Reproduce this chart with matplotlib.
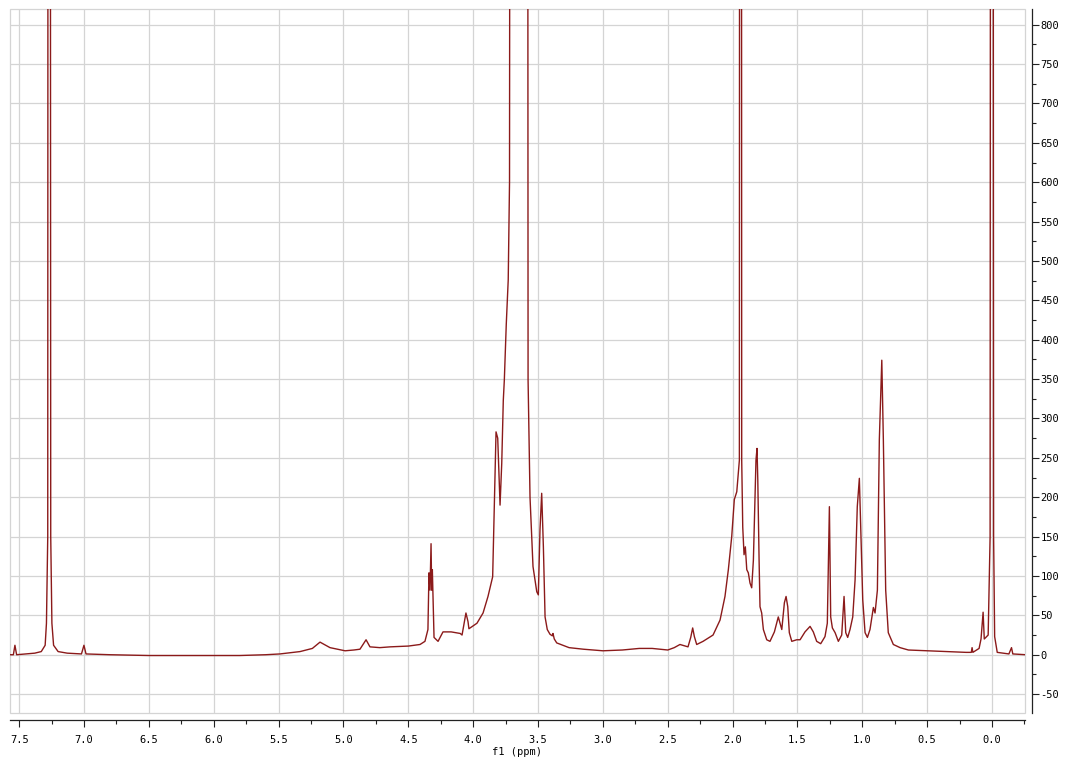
import matplotlib
matplotlib.use("Agg")
import matplotlib.pyplot as plt
from matplotlib.patches import Rectangle
from matplotlib.ticker import MultipleLocator, FormatStrFormatter

plt.rcParams['font.family'] = ['DejaVu Sans Mono']
plt.rcParams['axes.unicode_minus'] = False

# 1H NMR trace (ppm, intensity)
ppm = [7.57, 7.545, 7.533, 7.52, 7.45, 7.38,
       7.33, 7.30, 7.29, 7.28, 7.275, 7.265, 7.257, 7.248, 7.235, 7.20, 7.13,
       7.02, 7.001, 6.985, 6.8, 6.5, 6.2, 6.0, 5.8, 5.6,
       5.49, 5.335, 5.24, 5.181, 5.104, 4.988, 4.92, 4.873, 4.826, 4.796, 4.72,
       4.64, 4.5, 4.41, 4.372, 4.349, 4.341, 4.333, 4.325, 4.32, 4.315,
       4.302, 4.271, 4.233, 4.17, 4.10, 4.086, 4.056, 4.04, 4.033,
       3.971, 3.924, 3.886, 3.85, 3.824, 3.811, 3.793, 3.78, 3.768, 3.76,
       3.745, 3.73, 3.72, 3.708, 3.69, 3.60, 3.585, 3.577, 3.562, 3.539,
       3.51, 3.498, 3.485, 3.472, 3.459, 3.446, 3.429, 3.408, 3.39, 3.385,
       3.375, 3.356, 3.261, 3.15, 3.0, 2.85, 2.72, 2.62, 2.5, 2.45,
       2.406, 2.344, 2.323, 2.308, 2.295, 2.277, 2.228, 2.151, 2.097, 2.059,
       2.033, 2.007, 1.987, 1.968, 1.956, 1.948, 1.943, 1.935, 1.93, 1.922,
       1.912, 1.902, 1.891, 1.879, 1.866, 1.853, 1.84, 1.827, 1.82, 1.812,
       1.806, 1.796, 1.789, 1.776, 1.763, 1.737, 1.712, 1.678, 1.648, 1.621,
       1.601, 1.588, 1.575, 1.563, 1.544, 1.506, 1.48, 1.442, 1.403, 1.378,
       1.352, 1.321, 1.288, 1.27, 1.254, 1.244, 1.231, 1.21, 1.185, 1.159,
       1.141, 1.128, 1.113, 1.095, 1.074, 1.056, 1.039, 1.023, 1.01, 0.997,
       0.979, 0.961, 0.941, 0.915, 0.902, 0.884, 0.869, 0.85, 0.838, 0.82,
       0.80, 0.761, 0.709, 0.645, 0.5, 0.35, 0.2, 0.16, 0.154, 0.148,
       0.10, 0.085, 0.069, 0.06, 0.03, 0.015, 0.007, -0.003, -0.012, -0.02,
       -0.04, -0.13, -0.15, -0.16, -0.26]
intensity = [0, 0, 12, 0, 1, 2,
             4, 12, 40, 150, 3000, 3000, 150, 40, 12, 4, 2,
             1, 12, 1, 0, -1, -1, -1, -1, 0,
             1, 4, 8, 16, 9, 5, 6, 7, 19, 10, 9,
             10, 11, 13, 17, 32, 104, 82, 141, 82, 108,
             22, 17, 29, 29, 27, 25, 53, 42, 33,
             40, 53, 74, 99, 283, 275, 190, 243, 323, 349,
             420, 476, 600, 3000, 3000, 3000, 3000, 349, 200, 112,
             80, 76, 159, 205, 137, 48, 32, 26, 24, 27,
             20, 15, 9, 7, 5, 6, 8, 8, 6, 9,
             13, 10, 22, 34, 23, 13, 17, 25, 44, 74,
             108, 150, 197, 207, 231, 247, 3000, 3000, 247, 162,
             127, 137, 108, 104, 91, 85, 120, 205, 247, 262,
             222, 120, 61, 53, 32, 19, 17, 29, 48, 32,
             66, 74, 61, 28, 17, 19, 19, 29, 36, 29,
             17, 14, 23, 40, 188, 48, 34, 28, 17, 25,
             74, 28, 22, 32, 48, 95, 188, 224, 146, 70,
             28, 22, 32, 60, 53, 82, 273, 374, 273, 82,
             28, 13, 9, 6, 5, 4, 3, 3, 9, 3,
             8, 20, 54, 20, 25, 150, 3000, 3000, 150, 23,
             3, 1, 9, 1, 0]

fig = plt.figure(figsize=(10.88, 7.60), dpi=100)
ax = fig.add_axes([10 / 1088, 1 - 713 / 760, 1015 / 1088, 704 / 760])

ax.plot(ppm, intensity, color='#8b1a1a', linewidth=1.0)

ax.set_xlim(7.571, -0.254)
ax.set_ylim(-74, 820)

ax.xaxis.set_major_locator(MultipleLocator(0.5))
ax.xaxis.set_minor_locator(MultipleLocator(0.25))
ax.xaxis.set_major_formatter(FormatStrFormatter('%.1f'))
ax.yaxis.set_major_locator(MultipleLocator(50))
ax.yaxis.set_minor_locator(MultipleLocator(25))
ax.yaxis.tick_right()

ax.grid(True, which='major', color='#d4d4d4', linewidth=0.9)
ax.set_axisbelow(True)

for s in ['left', 'top']:
    ax.spines[s].set_visible(False)
ax.spines['right'].set_position(('outward', 5))
ax.spines['bottom'].set_position(('outward', 5))
for s in ['right', 'bottom']:
    ax.spines[s].set_color('#222222')
    ax.spines[s].set_linewidth(0.9)

# light frame around the plot area
ax.add_patch(Rectangle((0, 0), 1, 1, transform=ax.transAxes, fill=False,
                       edgecolor='#d4d4d4', linewidth=0.9, clip_on=False))

ax.tick_params(axis='both', which='major', length=5, width=0.8, labelsize=7.5,
               color='#222222')
ax.tick_params(axis='both', which='minor', length=3, width=0.8, color='#222222')
ax.tick_params(axis='x', pad=6)
ax.tick_params(axis='y', pad=1)

ax.set_xlabel('f1 (ppm)', fontsize=7.5, labelpad=1)

fig.savefig('out.png', dpi=100)
